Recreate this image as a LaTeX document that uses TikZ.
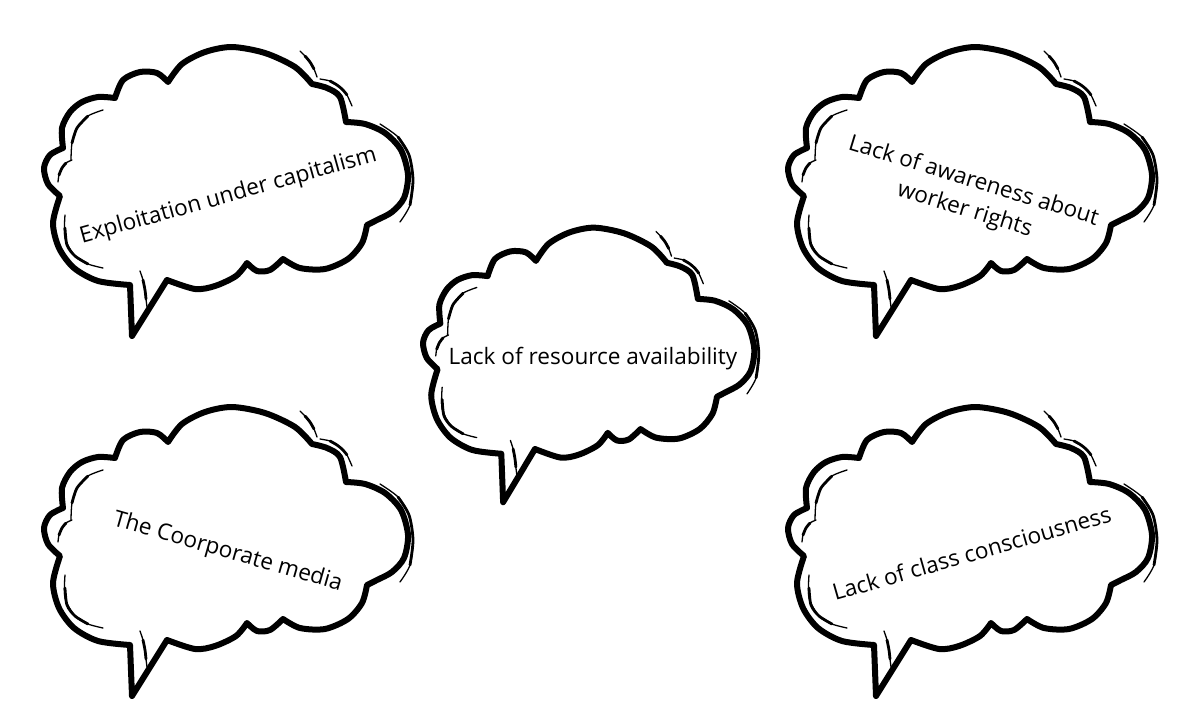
\documentclass[tikz,border=0pt]{standalone}
\usepackage{fontspec}
\setmainfont{Open Sans}
\newcommand{\drawcloud}{%
  \draw[cloudline]
    plot[smooth] coordinates {(168,82) (182,64) (205,52) (232,47) (265,53) (295,67) (312,84)}
 -- plot[smooth] coordinates {(312,84) (327,88) (340,97) (346,122)}
 -- plot[smooth] coordinates {(346,122) (365,124) (385,133) (401,150) (408,175) (404,198) (392,212) (377,220) (367,225)}
 -- plot[smooth] coordinates {(367,225) (362,243) (348,259) (325,269) (300,268) (283,259)}
 -- plot[smooth] coordinates {(283,259) (270,270) (257,271) (247,263)}
 -- plot[smooth] coordinates {(247,263) (236,276) (215,286) (195,289) (167,280)}
 -- (132,336) -- (130,285)
 -- plot[smooth] coordinates {(130,285) (98,281) (74,268) (59,248) (53,223) (60,196)}
 -- plot[smooth] coordinates {(60,196) (48,184) (44,168) (50,155) (63,148)}
 -- plot[smooth] coordinates {(63,148) (62,128) (70,112) (82,102) (98,97) (115,98)}
 -- plot[smooth] coordinates {(115,98) (123,80) (140,72) (157,73) (168,82)}
 -- cycle;
  % tapered secondary strokes: thin full length, thicker middle part
  \draw[shadeend] plot[smooth] coordinates {(103,110) (88,116) (77,128) (72,143) (71,160)};
  \draw[shademid] plot[smooth] coordinates {(88,116) (77,128) (72,143)};
  \draw[shadeend] plot[smooth] coordinates {(72,160) (66,163) (62,168) (59,175) (58,182)};
  \draw[shademid] plot[smooth] coordinates {(66,163) (62,168) (59,175)};
  \draw[shadeend] plot[smooth] coordinates {(65,215) (65,238) (75,256) (88,264) (103,268)};
  \draw[shademid] plot[smooth] coordinates {(65,228) (67,245) (75,256) (88,264)};
  \draw[shadeend] plot[smooth] coordinates {(140,271) (143,280) (145,290) (146,299) (147,307)};
  \draw[shademid] plot[smooth] coordinates {(143,280) (145,290) (146,299)};
  \draw[shadeend] plot[smooth] coordinates {(300,51) (305,56) (310,62) (314,69) (317,77)};
  \draw[shademid] plot[smooth] coordinates {(305,56) (310,62) (314,69)};
  \draw[shadeend] plot[smooth] coordinates {(320,79) (330,81) (337,85) (343,90) (347,95) (352,106)};
  \draw[shademid] plot[smooth] coordinates {(330,81) (337,85) (343,90) (347,95)};
  \draw[shadeend] plot[smooth] coordinates {(380,124) (398,137) (409,155) (413,180) (410,205) (400,222)};
  \draw[shademid] plot[smooth] coordinates {(398,137) (409,155) (413,180) (410,205)};
}
\begin{document}
\begin{tikzpicture}[x=1pt,y=-1pt,
  cloudline/.style={line width=6pt, line join=round, fill=white, draw=black},
  shadeend/.style={line width=1.3pt, line cap=round},
  shademid/.style={line width=2.8pt, line cap=round},
  bubbletext/.style={font=\fontsize{22.6}{30}\selectfont, anchor=base, inner sep=0pt}]
\fill[white] (0,0) rectangle (1200,720);
\useasboundingbox (0,0) rectangle (1200,720);
\begin{scope}\drawcloud\end{scope}
\begin{scope}[shift={(744,0)}]\drawcloud\end{scope}
\begin{scope}[shift={(0,360)}]\drawcloud\end{scope}
\begin{scope}[shift={(744,360)}]\drawcloud\end{scope}
\begin{scope}[shift={(383,183)},xscale=0.91,yscale=0.95]\drawcloud\end{scope}
\node[bubbletext, rotate=15.6] (t1) at (230,202) {Exploitation under capitalism};
\node[bubbletext] (t2) at (593,364) {Lack of resource availability};
\node[bubbletext, anchor=center, align=center, rotate=-17] (t3) at (969,196) {Lack of awareness about\\worker rights};
\node[bubbletext, rotate=-16] (t4) at (226,558) {The Coorporate media};
\node[bubbletext, rotate=16] (t5) at (974,561) {Lack of class consciousness};
\end{tikzpicture}
\end{document}
